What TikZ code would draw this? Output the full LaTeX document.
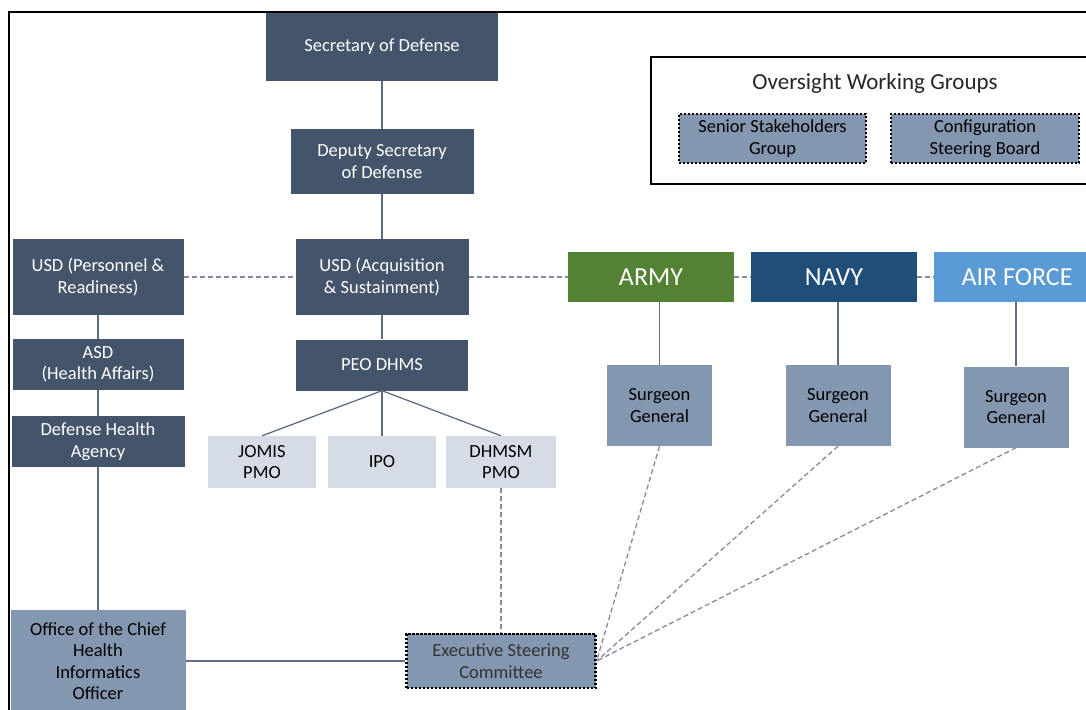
\documentclass[tikz,border=0pt]{standalone}
\usepackage{fontspec}
\setmainfont{Carlito}
\definecolor{slate}{RGB}{68,84,106}
\definecolor{steelgray}{RGB}{132,151,176}
\definecolor{paleblue}{RGB}{214,220,229}
\definecolor{armygreen}{RGB}{84,130,53}
\definecolor{navyblue}{RGB}{31,78,121}
\definecolor{airblue}{RGB}{91,155,213}
\definecolor{linegray}{RGB}{96,110,132}
\definecolor{dashgray}{RGB}{130,140,158}

\begin{document}
\begin{tikzpicture}[x=1pt,y=-1pt,
  org/.style={rectangle,inner sep=0pt,align=center,font=\fontsize{18.5}{21.5}\selectfont},
  darkorg/.style={org,fill=slate,text=white},
  grayorg/.style={org,fill=steelgray,text=black},
  paleorg/.style={org,fill=paleblue,text=black,minimum width=108pt,minimum height=52pt},
  service/.style={org,text=white,minimum width=166pt,minimum height=50pt,font=\fontsize{26}{30}\selectfont},
  surgeon/.style={grayorg,minimum width=105pt,minimum height=81pt},
  dotbox/.style={grayorg,draw=black,line width=2.2pt,dash pattern=on 2.2pt off 1.8pt},
  solidlink/.style={draw=linegray,line width=1.3pt},
  dashlink/.style={draw=dashgray,line width=1.3pt,dash pattern=on 5pt off 3pt}]
\useasboundingbox (0,0) rectangle (1086,709);
\clip (0,0) rectangle (1086,709);

\node[darkorg,minimum width=232pt,minimum height=68pt] (sec) at (382,47) {Secretary of Defense};
\node[darkorg,minimum width=183pt,minimum height=65pt] (dep) at (382,161.5) {Deputy Secretary\\of Defense};
\node[darkorg,minimum width=173pt,minimum height=76pt] (usdas) at (382,277) {USD (Acquisition\\\& Sustainment)};
\node[darkorg,minimum width=171pt,minimum height=76pt] (usdpr) at (98,277) {USD (Personnel \&\\Readiness)};
\node[darkorg,minimum width=172pt,minimum height=51pt] (peo) at (382,365) {PEO DHMS};
\node[darkorg,minimum width=171pt,minimum height=51pt] (asd) at (98,364.5) {ASD\\(Health Affairs)};
\node[darkorg,minimum width=173pt,minimum height=51pt] (dha) at (98,441.5) {Defense Health\\Agency};
\node[grayorg,minimum width=175pt,minimum height=102pt] (ochio) at (98,661) {Office of the Chief\\Health\\Informatics\\Officer};

\node[paleorg] (jomis) at (262,462) {JOMIS\\PMO};
\node[paleorg] (ipo) at (382,462) {IPO};
\node[paleorg,minimum width=110pt] (dhmsm) at (501,462) {DHMSM\\PMO};

\node[dotbox,minimum width=189pt,minimum height=54pt,text=black!80] (esc) at (501,661) {Executive Steering\\Committee};

\node[service,fill=armygreen] (army) at (651,277) {ARMY};
\node[service,fill=navyblue] (navy) at (834,277) {NAVY};
\node[service,fill=airblue] (af) at (1017,277) {AIR FORCE};

\node[surgeon] (armysg) at (659.5,405.5) {Surgeon\\General};
\node[surgeon] (navysg) at (838,405.5) {Surgeon\\General};
\node[surgeon] (afsg) at (1016,407) {Surgeon\\General};

\node[draw=black,line width=2pt,minimum width=448pt,minimum height=127pt,inner sep=0pt] (ovg) at (875,120.5) {};
\node[font=\fontsize{23}{27}\selectfont,text=black!85] (ovgtitle) at (875,83) {Oversight Working Groups};
\node[dotbox,minimum width=187pt,minimum height=49pt] (ssg) at (772.5,138.5) {Senior Stakeholders\\Group};
\node[dotbox,minimum width=188pt,minimum height=49pt] (csb) at (985,138.5) {Configuration\\Steering Board};

\draw[solidlink] (sec) -- (dep);
\draw[solidlink] (dep) -- (usdas);
\draw[solidlink] (usdas) -- (peo);
\draw[solidlink] (peo.south) -- (jomis.north);
\draw[solidlink] (peo.south) -- (ipo.north);
\draw[solidlink] (peo.south) -- (dhmsm.north);
\draw[solidlink] (usdpr) -- (asd);
\draw[solidlink] (asd) -- (dha);
\draw[solidlink] (dha) -- (ochio);
\draw[solidlink] (ochio) -- (esc);
\draw[solidlink] (army.south -| armysg.north) -- (armysg.north);
\draw[solidlink] (navy.south -| navysg.north) -- (navysg.north);
\draw[solidlink] (af.south -| afsg.north) -- (afsg.north);

\draw[dashlink] (usdpr) -- (usdas);
\draw[dashlink] (usdas) -- (army);
\draw[dashlink] (army) -- (navy);
\draw[dashlink] (navy) -- (af);
\draw[dashlink] (dhmsm) -- (esc);
\draw[dashlink] (armysg.south) -- (esc.east);
\draw[dashlink] (navysg.south) -- (esc.east);
\draw[dashlink] (afsg.south) -- (esc.east);

\draw[line width=1.6pt] (9,12) rectangle (1100,730);
\end{tikzpicture}
\end{document}
